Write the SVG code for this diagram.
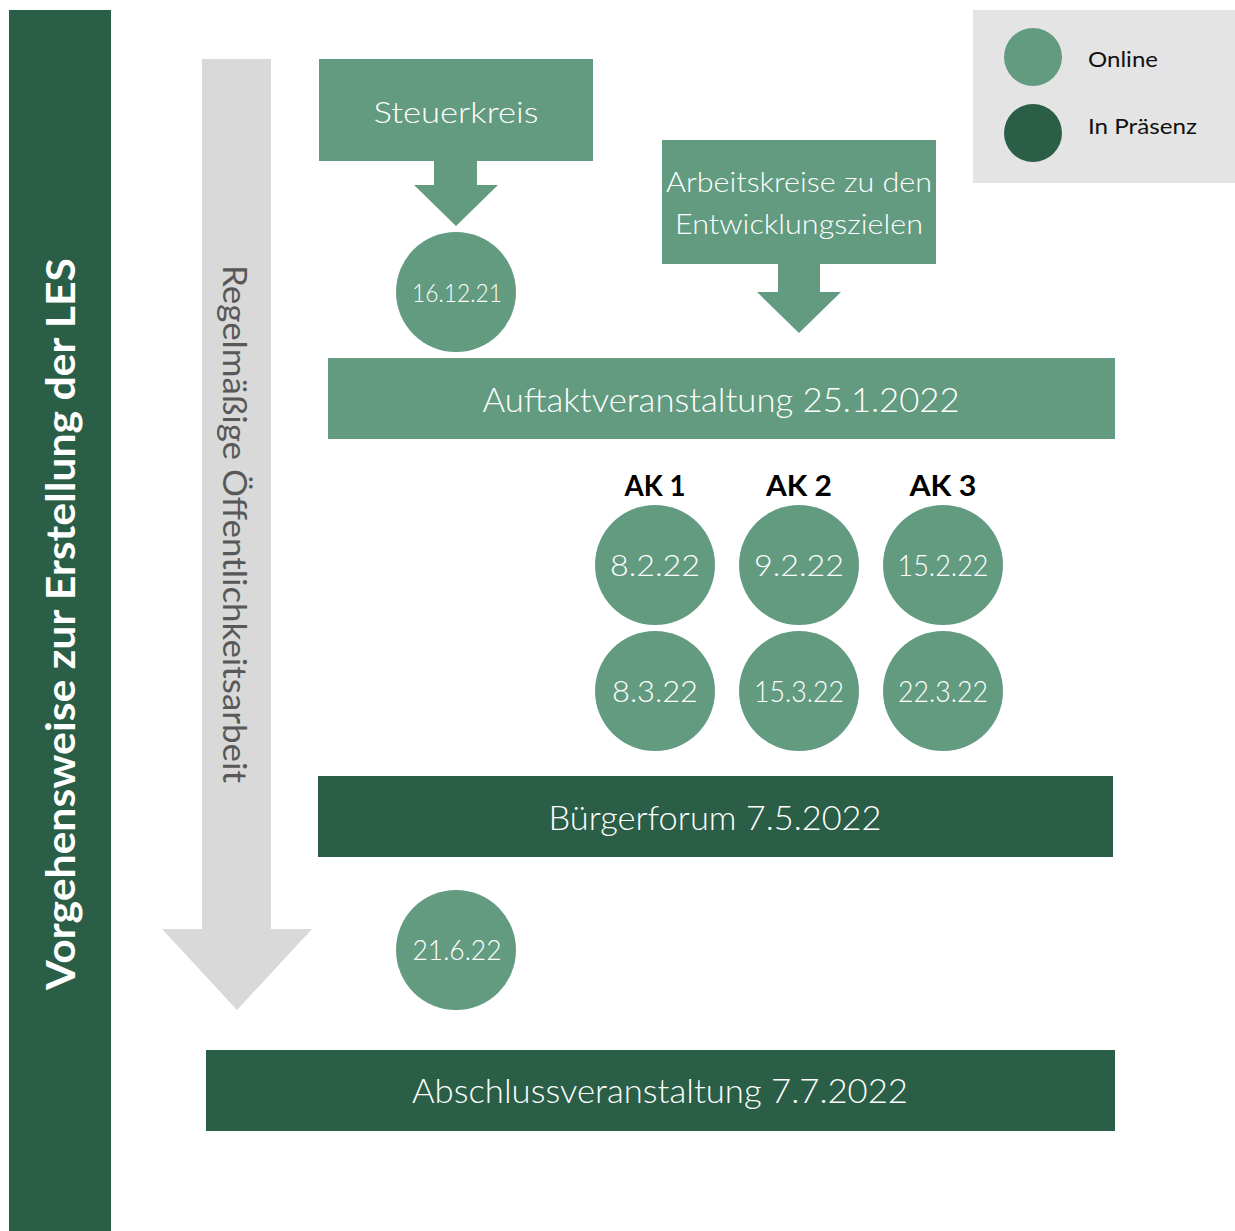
<svg xmlns="http://www.w3.org/2000/svg" width="1235" height="1231" viewBox="0 0 1235 1231">
<style>
.light{fill:#629b80}
.dark{fill:#2a5e47}
.wt{fill:#ffffff;font-family:Lato,"Noto Sans",sans-serif;font-weight:300;text-anchor:middle}
.bt{fill:#000000;font-family:Lato,"Noto Sans",sans-serif;font-weight:700;text-anchor:middle;font-size:29px}
.lg{fill:#111111;font-family:Lato,"Noto Sans",sans-serif;font-weight:400;font-size:22px}
</style>
<rect width="1235" height="1231" fill="#ffffff"/>

<g id="title">
<rect class="dark" x="9" y="10" width="102" height="1221"/>
<text transform="translate(75,624) rotate(-90)" fill="#ffffff" font-family="Lato,'Noto Sans',sans-serif" font-weight="700" font-size="40" text-anchor="middle" textLength="732" lengthAdjust="spacingAndGlyphs">Vorgehensweise zur Erstellung der LES</text>
</g>

<g id="connectors">
<polygon id="oeffentlichkeit-arrow" fill="#d9d9d9" points="202,59 271,59 271,929 312,929 237,1010 162,929 202,929"/>
<polygon class="light" points="434,161 477,161 477,185 498,185 456,226 414,185 434,185"/>
<polygon class="light" points="778,264 820,264 820,292 841,292 799,333 757,292 778,292"/>
</g>

<g id="oeffentlichkeit">
<text transform="translate(223,524) rotate(90)" fill="#585858" font-family="Lato,'Noto Sans',sans-serif" font-weight="400" font-size="33" text-anchor="middle" textLength="518" lengthAdjust="spacingAndGlyphs">Regelmäßige Öffentlichkeitsarbeit</text>
</g>

<g id="steuerkreis">
<rect class="light" x="319" y="59" width="274" height="102"/>
<text class="wt" x="456" y="123" font-size="30" textLength="165" lengthAdjust="spacingAndGlyphs">Steuerkreis</text>
</g>

<g id="sk-161221">
<circle class="light" cx="456" cy="292" r="60"/>
<text class="wt" x="457" y="302" font-size="26" textLength="90" lengthAdjust="spacingAndGlyphs">16.12.21</text>
</g>

<g id="arbeitskreise">
<rect class="light" x="662" y="140" width="274" height="124"/>
<text class="wt" x="799" y="192" font-size="28" textLength="266" lengthAdjust="spacingAndGlyphs">Arbeitskreise zu den</text>
<text class="wt" x="799" y="234" font-size="28" textLength="248" lengthAdjust="spacingAndGlyphs">Entwicklungszielen</text>
</g>

<g id="auftakt">
<rect class="light" x="328" y="358" width="787" height="81"/>
<text class="wt" x="721" y="412" font-size="34" textLength="477" lengthAdjust="spacingAndGlyphs">Auftaktveranstaltung 25.1.2022</text>
</g>

<g id="ak1">
<text class="bt" x="655" y="496" textLength="61" lengthAdjust="spacingAndGlyphs">AK 1</text>
<circle class="light" cx="655" cy="565" r="60"/>
<text class="wt" x="655" y="576" font-size="30" textLength="90" lengthAdjust="spacingAndGlyphs">8.2.22</text>
<circle class="light" cx="655" cy="691" r="60"/>
<text class="wt" x="655" y="702" font-size="30" textLength="86" lengthAdjust="spacingAndGlyphs">8.3.22</text>
</g>

<g id="ak2">
<text class="bt" x="799" y="496" textLength="66" lengthAdjust="spacingAndGlyphs">AK 2</text>
<circle class="light" cx="799" cy="565" r="60"/>
<text class="wt" x="799" y="576" font-size="30" textLength="90" lengthAdjust="spacingAndGlyphs">9.2.22</text>
<circle class="light" cx="799" cy="691" r="60"/>
<text class="wt" x="799" y="702" font-size="30" textLength="90" lengthAdjust="spacingAndGlyphs">15.3.22</text>
</g>

<g id="ak3">
<text class="bt" x="943" y="496" textLength="67" lengthAdjust="spacingAndGlyphs">AK 3</text>
<circle class="light" cx="943" cy="565" r="60"/>
<text class="wt" x="943" y="576" font-size="30" textLength="91" lengthAdjust="spacingAndGlyphs">15.2.22</text>
<circle class="light" cx="943" cy="691" r="60"/>
<text class="wt" x="943" y="702" font-size="30" textLength="90" lengthAdjust="spacingAndGlyphs">22.3.22</text>
</g>

<g id="buergerforum">
<rect class="dark" x="318" y="776" width="795" height="81"/>
<text class="wt" x="715" y="830" font-size="34" textLength="333" lengthAdjust="spacingAndGlyphs">Bürgerforum 7.5.2022</text>
</g>

<g id="sk-21622">
<circle class="light" cx="456" cy="950" r="60"/>
<text class="wt" x="457" y="960" font-size="28" textLength="89" lengthAdjust="spacingAndGlyphs">21.6.22</text>
</g>

<g id="abschluss">
<rect class="dark" x="206" y="1050" width="909" height="81"/>
<text class="wt" x="660" y="1103" font-size="34" textLength="496" lengthAdjust="spacingAndGlyphs">Abschlussveranstaltung 7.7.2022</text>
</g>

<g id="legend">
<rect x="973" y="10" width="262" height="173" fill="#e4e4e4"/>
<circle class="light" cx="1033" cy="57" r="29"/>
<text class="lg" x="1088" y="67" textLength="70" lengthAdjust="spacingAndGlyphs">Online</text>
<circle class="dark" cx="1033" cy="133" r="29"/>
<text class="lg" x="1088" y="134" textLength="109" lengthAdjust="spacingAndGlyphs">In Präsenz</text>
</g>
</svg>
